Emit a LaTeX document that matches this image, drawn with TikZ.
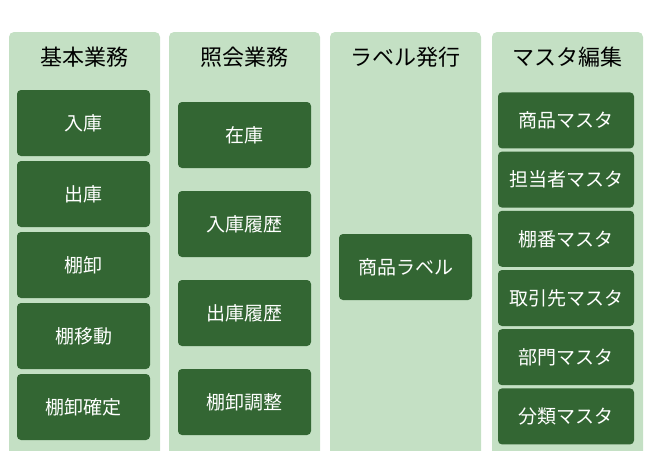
\documentclass[tikz,border=0pt]{standalone}
\usepackage{fontspec}
\newfontfamily\jpfont{Noto Sans CJK JP}
\definecolor{panelgreen}{HTML}{C4E0C4}
\definecolor{boxgreen}{HTML}{336633}
\tikzset{
  panel/.style={fill=panelgreen, rounded corners=5pt},
  header/.style={font=\jpfont\fontsize{22}{26}\selectfont, text=black, inner sep=0pt},
  menubox/.style={fill=boxgreen, rounded corners=4pt, text=white,
    font=\jpfont\fontsize{19}{23}\selectfont, inner sep=0pt,
    minimum width=133pt, minimum height=66pt},
  masterbox/.style={menubox, minimum width=136pt, minimum height=56pt},
}
\begin{document}
\begin{tikzpicture}[x=1pt,y=-1pt]
    \useasboundingbox (0,0) rectangle (650,450);

    % Column panels (run off the bottom edge)
    \begin{scope}
        \clip (0,0) rectangle (650,450);
        \foreach \x in {9, 169, 330, 492} {
            \fill[panel] (\x,32) rectangle ++(151,430);
        }
    \end{scope}

    % Column headers
    \node[header] (basic-head)  at (84.5,57)  {基本業務};
    \node[header] (query-head)  at (244.5,57) {照会業務};
    \node[header] (label-head)  at (405.5,57) {ラベル発行};
    \node[header] (master-head) at (567.5,57) {マスタ編集};

    % Basic operations
    \foreach \lab [count=\i] in {入庫, 出庫, 棚卸, 棚移動, 棚卸確定} {
        \node[menubox] (basic-\i) at (83.5, 52+71*\i) {\lab};
    }

    % Queries
    \foreach \lab [count=\i] in {在庫, 入庫履歴, 出庫履歴, 棚卸調整} {
        \node[menubox] (query-\i) at (244.5, 46+89*\i) {\lab};
    }

    % Label printing
    \node[menubox] (label-1) at (405.5,267) {商品ラベル};

    % Master maintenance
    \foreach \lab [count=\i] in {商品マスタ, 担当者マスタ, 棚番マスタ, 取引先マスタ, 部門マスタ, 分類マスタ} {
        \node[masterbox] (master-\i) at (566, 61.2+59.2*\i) {\lab};
    }
\end{tikzpicture}
\end{document}
